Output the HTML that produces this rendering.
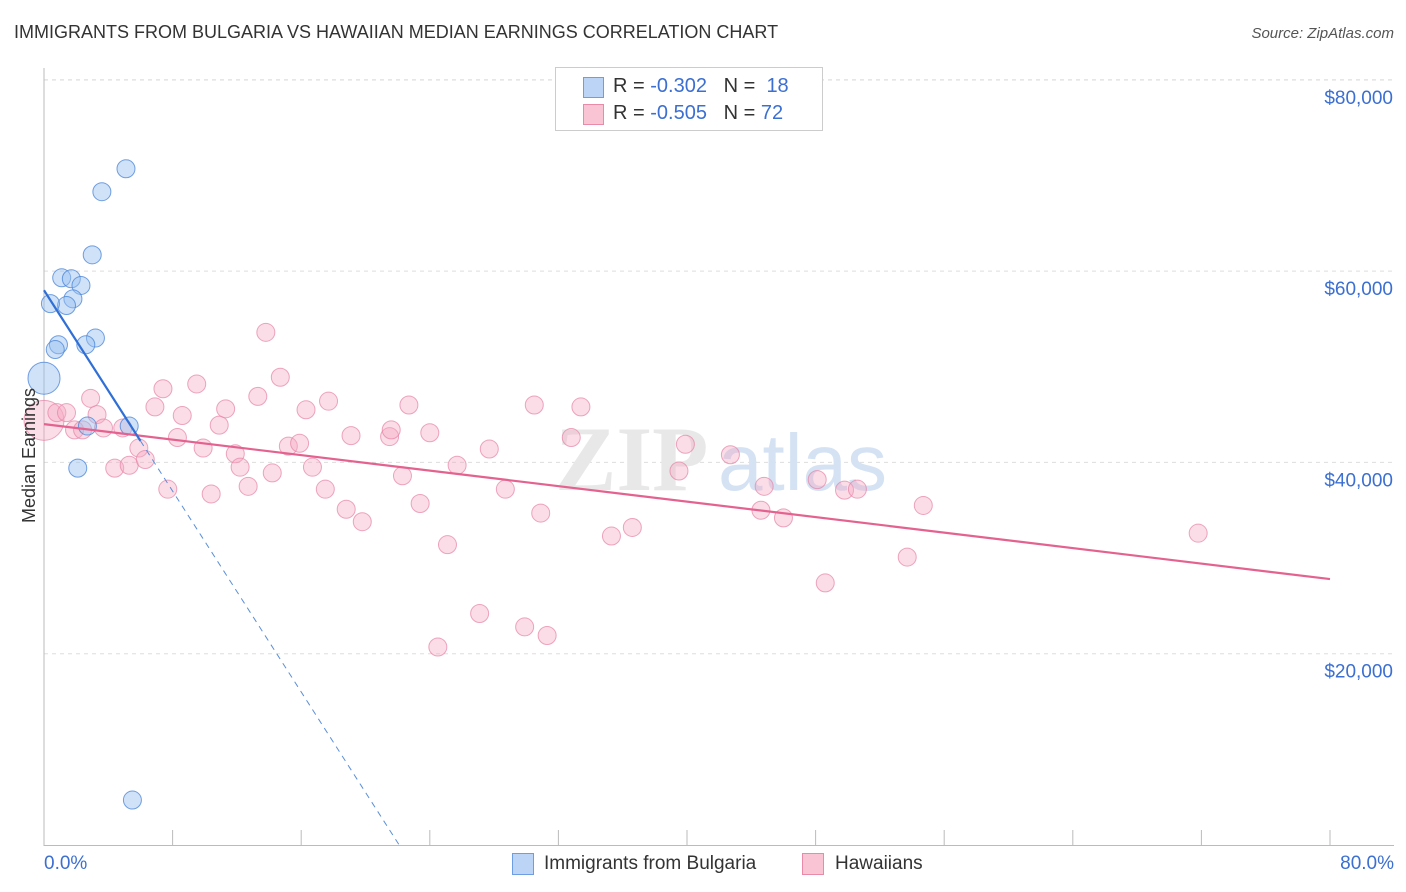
<!DOCTYPE html>
<html><head><meta charset="utf-8">
<style>
body{margin:0;background:#fff;font-family:"Liberation Sans",sans-serif;}
#wrap{position:relative;width:1406px;height:892px;overflow:hidden;}
.t{position:absolute;white-space:nowrap;}
</style></head><body>
<div id="wrap">
<div class="t" style="left:14px;top:22px;font-size:18px;color:#333;">IMMIGRANTS FROM BULGARIA VS HAWAIIAN MEDIAN EARNINGS CORRELATION CHART</div>
<div class="t" style="right:12px;top:25px;font-size:15px;color:#555;font-style:italic;">Source: ZipAtlas.com</div>
<svg id="svg" width="1406" height="892" style="position:absolute;left:0;top:0;"></svg>
</div>
<script>
const yTicks=[20000,40000,60000,80000];
const yTickLabels=["$20,000","$40,000","$60,000","$80,000"];
const xTickVals=[0,8,16,24,32,40,48,56,64,72,80];
const bulgX=[5.1,3.6,3.0,1.1,1.7,2.3,1.8,1.4,0.4,0.9,0.7,3.2,2.6,0.0,2.7,5.3,2.1,5.5];
const bulgY=[70700,68300,61700,59300,59200,58500,57100,56400,56600,52300,51800,53000,52300,48800,43800,43800,39400,4700];
const hawX=[0,0.8,1.4,1.9,2.4,2.9,3.3,3.7,4.4,4.9,5.3,5.9,6.3,6.9,7.4,7.7,8.3,8.6,9.5,9.9,10.4,10.9,11.3,11.9,12.2,12.7,13.3,13.8,14.2,14.7,15.2,15.9,16.3,16.7,17.5,17.7,18.8,19.1,19.8,21.5,21.6,22.3,22.7,23.4,24.0,25.1,25.7,24.5,27.1,27.7,28.7,29.9,30.5,30.9,31.3,32.8,33.4,35.3,36.6,39.5,39.9,42.7,44.6,44.8,46.0,48.1,48.6,49.8,50.6,53.7,54.7,71.8];
const hawY=[44400,45200,45200,43400,43400,46700,45000,43600,39400,43600,39700,41500,40300,45800,47700,37200,42600,44900,48200,41500,36700,43900,45600,40900,39500,37500,46900,53600,38900,48900,41700,42000,45500,39500,37200,46400,35100,42800,33800,42700,43400,38600,46000,35700,43100,31400,39700,20700,24200,41400,37200,22800,46000,34700,21900,42600,45800,32300,33200,39100,41900,40800,35000,37500,34200,38200,27400,37100,37200,30100,35500,32600];
const bulgFit=[58000,-2625];
const hawFit=[44000,-202.5];

const NS="http://www.w3.org/2000/svg";
const svg=document.getElementById('svg');
const X=v=>44+(v/80)*1286;
const Y=v=>845-v/20000*191.3;
function mk(tag,attrs,parent){const e=document.createElementNS(NS,tag);for(const k in attrs)e.setAttribute(k,attrs[k]);(parent||svg).appendChild(e);return e;}
yTicks.forEach((v,i)=>{
 const g=mk('line',{x1:44,x2:1394,y1:Y(v),y2:Y(v),stroke:'#ddd','stroke-dasharray':'4,4'});
 
 
 const t=mk('text',{x:1393,y:Y(v)+24,'text-anchor':'end','font-size':19,fill:'#3b6fd1','font-family':'Liberation Sans, sans-serif'});
 t.textContent=yTickLabels[i];
 
 
});
mk('line',{x1:44,x2:1394,y1:80,y2:80,stroke:'#ddd','stroke-dasharray':'4,4'});
mk('line',{x1:44,x2:44,y1:68,y2:846,stroke:'#bbb'});
mk('line',{x1:44,x2:1394,y1:845.5,y2:845.5,stroke:'#bbb'});
xTickVals.forEach(v=>{
 const l=mk('line',{x1:X(v),x2:X(v),y1:830,y2:846,stroke:'#bbb'});
 
 
});
const wm=mk('text',{x:555,y:490,'font-size':92,fill:'#e8e8e8','font-family':'Liberation Serif, serif','font-weight':'bold'});
wm.textContent='ZIP';


const wm2=mk('text',{x:718,y:490,'font-size':80,fill:'#d4e2f4','font-family':'Liberation Sans, sans-serif'});
wm2.textContent='atlas';


hawX.forEach((x,i)=>{
 const c=mk('circle',{cx:X(x),cy:Y(hawY[i]),r:i===0?20:9,fill:'rgba(245,170,195,0.4)',stroke:'rgba(230,130,165,0.7)','stroke-width':1});
 
 
});
bulgX.forEach((x,i)=>{
 const c=mk('circle',{cx:X(x),cy:Y(bulgY[i]),r:i===13?16:9,fill:'rgba(150,190,240,0.45)',stroke:'rgba(70,130,215,0.75)','stroke-width':1});
 
 
});
const hl=mk('line',{x1:X(0),y1:Y(hawFit[0]),x2:X(80),y2:Y(hawFit[0]+hawFit[1]*80),stroke:'#e4628f','stroke-width':2.2});


const bl=mk('line',{x1:X(0),y1:Y(bulgFit[0]),x2:X(6),y2:Y(bulgFit[0]+bulgFit[1]*6),stroke:'#2f6fd6','stroke-width':2.2});


const xe=-bulgFit[0]/bulgFit[1];
const bd=mk('line',{x1:X(6),y1:Y(bulgFit[0]+bulgFit[1]*6),x2:X(xe),y2:Y(0),stroke:'#5b8fd8','stroke-width':1,'stroke-dasharray':'6,5'});


</script>
<div class="t" style="left:-38px;top:445px;font-size:18px;color:#333;transform:rotate(-90deg);">Median Earnings</div>
<div class="t" style="left:44px;top:853px;font-size:19px;color:#3b6fd1;">0.0%</div>
<div class="t" style="right:12px;top:853px;font-size:19px;color:#3b6fd1;">80.0%</div>
<div style="position:absolute;left:555px;top:67px;width:266px;height:62px;border:1px solid #ccc;background:#fff;font-size:20px;">
 <div style="position:absolute;left:27px;top:9px;width:19px;height:19px;background:#bcd5f6;border:1px solid #6d9ee3;"></div>
 <div class="t" style="left:57px;top:7px;color:#333;">R = <span style="color:#3b6fd1">-0.302</span> &nbsp;&nbsp;N = &nbsp;<span style="color:#3b6fd1">18</span></div>
 <div style="position:absolute;left:27px;top:36px;width:19px;height:19px;background:#f9c5d5;border:1px solid #e88aa8;"></div>
 <div class="t" style="left:57px;top:34px;color:#333;">R = <span style="color:#3b6fd1">-0.505</span> &nbsp;&nbsp;N = <span style="color:#3b6fd1">72</span></div>
</div>
<div style="position:absolute;left:512px;top:852px;font-size:19px;color:#333;">
 <div style="position:absolute;left:0;top:1px;width:20px;height:20px;background:#bcd5f6;border:1px solid #6d9ee3;"></div>
 <div class="t" style="left:32px;top:1px;">Immigrants from Bulgaria</div>
 <div style="position:absolute;left:290px;top:1px;width:20px;height:20px;background:#f9c5d5;border:1px solid #e88aa8;"></div>
 <div class="t" style="left:323px;top:1px;">Hawaiians</div>
</div>
</body></html>
